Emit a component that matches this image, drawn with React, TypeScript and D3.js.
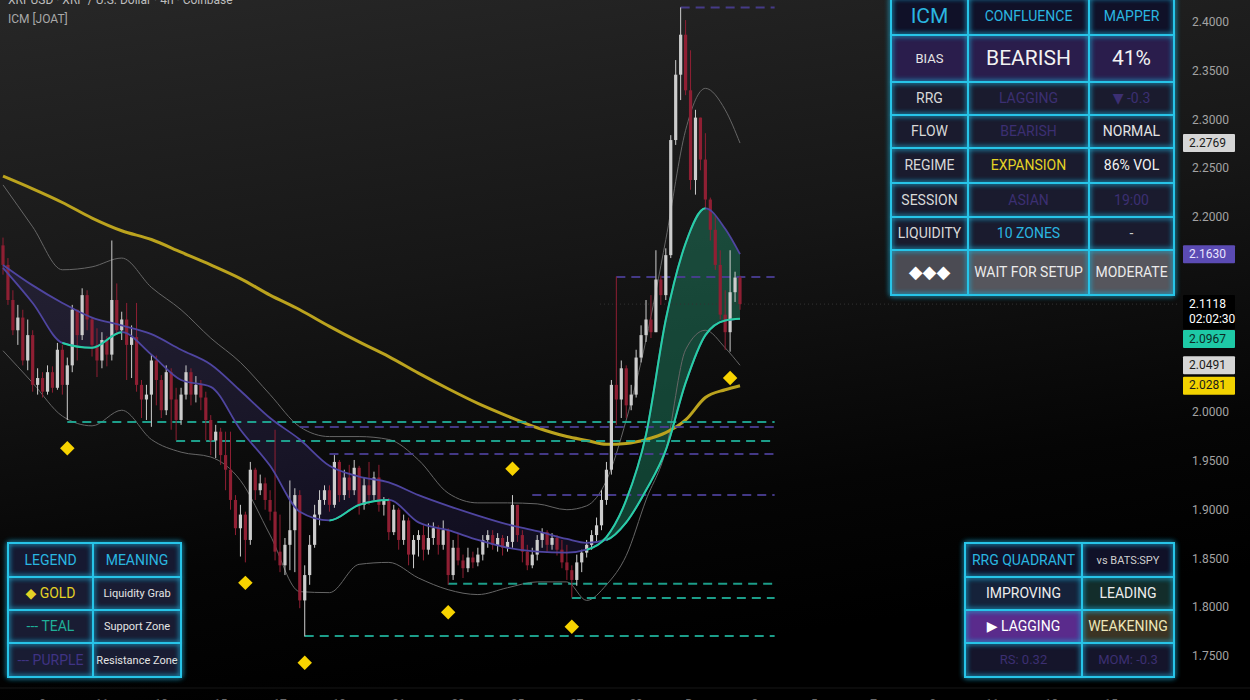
import React from "react";
import * as d3 from "d3";

const W = 1250;
const H = 700;
const FONT = "Roboto, 'Noto Sans', 'DejaVu Sans', sans-serif";

const title = "XRPUSD · XRP / U.S. Dollar · 4h · Coinbase";
const studyName = "ICM [JOAT]";

// 4h candles, open = previous close
const firstOpen = 2.172;
const closes = [
  2.152, 2.116, 2.085, 2.098, 2.054, 2.080, 2.029, 2.036, 2.022, 2.042,
  2.026, 2.065, 2.029, 2.049, 2.106, 2.080, 2.121, 2.096, 2.070, 2.054,
  2.075, 2.060, 2.116, 2.085, 2.096, 2.070, 2.078, 2.029, 2.014, 2.019,
  2.054, 2.034, 2.003, 2.042, 2.014, 1.993, 2.019, 2.042, 2.019, 2.029,
  2.016, 1.993, 1.972, 1.981, 1.957, 1.942, 1.911, 1.882, 1.896, 1.870,
  1.942, 1.921, 1.928, 1.911, 1.899, 1.858, 1.844, 1.865, 1.880, 1.916,
  1.808, 1.834, 1.865, 1.896, 1.911, 1.921, 1.906, 1.950, 1.916, 1.934,
  1.921, 1.944, 1.906, 1.926, 1.916, 1.934, 1.906, 1.911, 1.878, 1.901,
  1.870, 1.890, 1.855, 1.870, 1.875, 1.860, 1.872, 1.882, 1.865, 1.880,
  1.834, 1.862, 1.849, 1.841, 1.852, 1.847, 1.855, 1.870, 1.875, 1.865,
  1.872, 1.862, 1.868, 1.906, 1.875, 1.858, 1.844, 1.855, 1.870, 1.878,
  1.865, 1.872, 1.860, 1.847, 1.839, 1.829, 1.847, 1.857, 1.865, 1.875,
  1.885, 1.911, 1.942, 2.029, 2.014, 2.046, 2.008, 2.019, 2.057, 2.080,
  2.096, 2.083, 2.137, 2.121, 2.162, 2.280, 2.347, 2.388, 2.331, 2.239,
  2.303, 2.260, 2.219, 2.188, 2.152, 2.101, 2.083, 2.124, 2.139, 2.1118,
];
const highs = [
  2.180, 2.159, 2.126, 2.111, 2.106, 2.096, 2.085, 2.046, 2.042, 2.049,
  2.048, 2.072, 2.070, 2.057, 2.111, 2.096, 2.128, 2.126, 2.098, 2.087,
  2.083, 2.079, 2.177, 2.133, 2.104, 2.113, 2.090, 2.113, 2.034, 2.029,
  2.060, 2.059, 2.039, 2.049, 2.046, 2.026, 2.026, 2.049, 2.046, 2.038,
  2.034, 2.022, 1.998, 1.988, 1.985, 1.981, 1.981, 1.916, 1.906, 1.899,
  1.950, 1.944, 1.937, 1.934, 1.921, 1.983, 1.896, 1.872, 1.931, 1.923,
  1.921, 1.844, 1.875, 1.906, 1.921, 1.926, 1.926, 1.957, 1.952, 1.942,
  1.947, 1.952, 1.946, 1.934, 1.950, 1.940, 1.947, 1.914, 1.913, 1.906,
  1.903, 1.896, 1.893, 1.875, 1.880, 1.885, 1.887, 1.888, 1.885, 1.890,
  1.882, 1.870, 1.877, 1.855, 1.862, 1.858, 1.862, 1.875, 1.880, 1.880,
  1.877, 1.875, 1.874, 1.916, 1.906, 1.880, 1.865, 1.862, 1.875, 1.882,
  1.880, 1.877, 1.875, 1.870, 1.865, 1.844, 1.855, 1.860, 1.870, 1.880,
  1.893, 1.921, 1.950, 2.034, 2.140, 2.054, 2.049, 2.029, 2.065, 2.090,
  2.116, 2.121, 2.167, 2.141, 2.169, 2.285, 2.362, 2.416, 2.403, 2.372,
  2.311, 2.280, 2.287, 2.221, 2.203, 2.167, 2.126, 2.167, 2.145, 2.141,
];
const lows = [
  2.142, 2.111, 2.080, 2.070, 2.049, 2.044, 2.022, 2.019, 2.016, 2.019,
  2.021, 2.024, 2.019, 1.993, 2.042, 2.054, 2.075, 2.085, 2.058, 2.037,
  2.046, 2.048, 2.054, 2.080, 2.075, 2.034, 2.036, 2.022, 1.995, 1.993,
  1.986, 2.008, 1.995, 1.998, 1.983, 1.972, 1.988, 2.014, 2.008, 2.011,
  2.003, 1.972, 1.957, 1.954, 1.947, 1.921, 1.901, 1.875, 1.853, 1.847,
  1.865, 1.911, 1.916, 1.901, 1.890, 1.849, 1.837, 1.834, 1.839, 1.837,
  1.800, 1.771, 1.824, 1.862, 1.885, 1.906, 1.899, 1.903, 1.909, 1.911,
  1.913, 1.916, 1.896, 1.901, 1.906, 1.911, 1.899, 1.895, 1.870, 1.875,
  1.860, 1.865, 1.844, 1.841, 1.853, 1.849, 1.855, 1.865, 1.855, 1.860,
  1.824, 1.829, 1.844, 1.831, 1.837, 1.841, 1.843, 1.849, 1.862, 1.860,
  1.858, 1.854, 1.858, 1.862, 1.868, 1.847, 1.839, 1.841, 1.849, 1.862,
  1.858, 1.860, 1.854, 1.841, 1.829, 1.811, 1.823, 1.837, 1.852, 1.860,
  1.868, 1.880, 1.906, 1.937, 1.988, 1.995, 1.995, 2.003, 2.016, 2.052,
  2.073, 2.077, 2.085, 2.111, 2.116, 2.159, 2.275, 2.321, 2.326, 2.229,
  2.224, 2.249, 2.208, 2.177, 2.147, 2.096, 2.065, 2.063, 2.114, 2.106,
];

// indicator readings at these candle indices
const sampleIdx = [0, 6, 12, 18, 24, 30, 36, 42, 48, 54, 60, 66, 72, 78, 84, 90, 96, 102, 108, 114, 118, 122, 126, 130, 134, 138, 142, 146, 149];
const ma200 = [2.243, 2.230, 2.216, 2.200, 2.187, 2.178, 2.165, 2.152, 2.138, 2.121, 2.106, 2.089, 2.073, 2.058, 2.041, 2.025, 2.010, 1.997, 1.985, 1.976, 1.972, 1.968, 1.969, 1.973, 1.980, 1.993, 2.016, 2.024, 2.0281];
const emaSlow = [2.152, 2.131, 2.113, 2.098, 2.090, 2.081, 2.065, 2.050, 2.023, 1.995, 1.973, 1.946, 1.935, 1.929, 1.916, 1.905, 1.895, 1.886, 1.879, 1.871, 1.867, 1.870, 1.888, 1.921, 1.962, 2.031, 2.080, 2.095, 2.0967];
const emaFast = [2.149, 2.113, 2.072, 2.067, 2.083, 2.060, 2.034, 2.027, 1.983, 1.946, 1.899, 1.890, 1.906, 1.911, 1.888, 1.880, 1.870, 1.862, 1.858, 1.857, 1.860, 1.873, 1.911, 1.978, 2.096, 2.174, 2.210, 2.189, 2.163];
const fastTeal = [0, 0, 1, 1, 0, 0, 0, 0, 0, 0, 0, 1, 1, 0, 0, 0, 0, 0, 0, 0, 1, 1, 1, 1, 1, 1, 0, 0, 0];
const slowTeal = [0, 0, 0, 0, 0, 0, 0, 0, 0, 0, 0, 0, 0, 0, 0, 0, 0, 0, 0, 0, 0, 1, 1, 1, 1, 1, 1, 1, 1];
const bandUpper = [2.234, 2.191, 2.147, 2.150, 2.159, 2.129, 2.106, 2.077, 2.052, 2.019, 1.986, 1.976, 1.976, 1.973, 1.952, 1.918, 1.908, 1.908, 1.907, 1.901, 1.905, 1.931, 1.993, 2.075, 2.178, 2.290, 2.333, 2.311, 2.2769];
const bandLower = [2.064, 2.031, 1.997, 1.987, 2.003, 1.973, 1.960, 1.955, 1.931, 1.875, 1.817, 1.816, 1.845, 1.847, 1.831, 1.819, 1.814, 1.821, 1.827, 1.827, 1.808, 1.824, 1.854, 1.911, 1.962, 2.065, 2.085, 2.067, 2.0491];

// liquidity zones
const supportPrice = [1.991, 1.9715, 1.825, 1.8105, 1.7716];
const supportFrom = [13, 35, 90, 115, 61];
const resistPrice = [2.416, 2.1396, 1.9858, 1.9582, 1.916];
const resistFrom = [137, 124, 60, 66, 107];

// liquidity grabs
const grabIdx = [13, 49, 61, 90, 103, 115, 147];
const grabPrice = [1.964, 1.826, 1.744, 1.796, 1.943, 1.781, 2.036];

const yTicks = [2.4, 2.35, 2.3, 2.25, 2.2, 2.15, 2.1, 2.05, 2.0, 1.95, 1.9, 1.85, 1.8, 1.75];
const dateLabels = ["9", "11", "13", "15", "17", "19", "21", "23", "25", "27", "29", "Dec", "3", "5", "7", "9", "11", "13", "15"];

const countdown = "02:02:30";

// table texts
const icmText = [
  ["ICM", "CONFLUENCE", "MAPPER"],
  ["BIAS", "BEARISH", "41%"],
  ["RRG", "LAGGING", "▼ -0.3"],
  ["FLOW", "BEARISH", "NORMAL"],
  ["REGIME", "EXPANSION", "86% VOL"],
  ["SESSION", "ASIAN", "19:00"],
  ["LIQUIDITY", "10 ZONES", "-"],
  ["◆◆◆", "WAIT FOR SETUP", "MODERATE"],
];
const legendText = [
  ["LEGEND", "MEANING"],
  ["◆ GOLD", "Liquidity Grab"],
  ["--- TEAL", "Support Zone"],
  ["--- PURPLE", "Resistance Zone"],
];
const rrgText = [
  ["RRG QUADRANT", "vs BATS:SPY"],
  ["IMPROVING", "LEADING"],
  ["▶ LAGGING", "WEAKENING"],
  ["RS: 0.32", "MOM: -0.3"],
];

const CYAN = "#2ab6e0";
const DIM = "#3c2f72";
const TXT = "#e4e4e4";
const TEAL = "#27d0a4";
const PURPLE = "#4f45a0";

type Cell = { bg: string; fg: string; size: number };

function Table({ colX, rowY, text, style }: { colX: number[]; rowY: number[]; text: string[][]; style: Cell[][] }) {
  return (
    <g>
      {text.map((row, r) =>
        row.map((t, c) => {
          const s = style[r][c];
          const x0 = colX[c], x1 = colX[c + 1];
          const y0 = rowY[r], y1 = rowY[r + 1];
          return (
            <g key={`${r}-${c}`}>
              <rect x={x0} y={y0} width={x1 - x0} height={y1 - y0} fill={s.bg} />
              <text x={(x0 + x1) / 2} y={(y0 + y1) / 2 + 1} textAnchor="middle" dominantBaseline="middle"
                fill={s.fg} fontSize={s.size} fontFamily={FONT}>{t}</text>
            </g>
          );
        })
      )}
      <g filter="url(#glow)" opacity={0.8}>
        {colX.map((cx, i) => <line key={"gv" + i} x1={cx} x2={cx} y1={rowY[0]} y2={rowY[rowY.length - 1]} stroke="#1aa8d0" strokeWidth={4} />)}
        {rowY.map((ry, i) => <line key={"gh" + i} x1={colX[0]} x2={colX[colX.length - 1]} y1={ry} y2={ry} stroke="#1aa8d0" strokeWidth={4} />)}
      </g>
      {colX.map((cx, i) => <line key={"v" + i} x1={cx} x2={cx} y1={rowY[0]} y2={rowY[rowY.length - 1]} stroke="#27c4e8" strokeWidth={2} />)}
      {rowY.map((ry, i) => <line key={"h" + i} x1={colX[0] - 1} x2={colX[colX.length - 1] + 1} y1={ry} y2={ry} stroke="#27c4e8" strokeWidth={2} />)}
    </g>
  );
}

function runs(state: number[]) {
  const out: [number, number][] = [];
  let s = -1;
  state.forEach((v, k) => {
    if (v && s < 0) s = k;
    if (!v && s >= 0) { out.push([s, k]); s = -1; }
  });
  if (s >= 0) out.push([s, state.length - 1]);
  return out;
}

export default function App() {
  const n = closes.length;
  const x = d3.scaleLinear().domain([0, n - 1]).range([3, 740]);
  const y = d3.scaleLinear().domain([1.75, 2.4]).range([657, 23]);

  const candles = closes.map((c, i) => {
    const o = i === 0 ? firstOpen : closes[i - 1];
    return { i, o, c, h: Math.max(highs[i], o, c), l: Math.min(lows[i], o, c) };
  });

  const series = (vals: number[]) => sampleIdx.map((si, k) => [x(si), y(vals[k])] as [number, number]);
  const line = d3.line().curve(d3.curveMonotoneX);
  const ks = d3.range(sampleIdx.length);
  const greenArea = d3.area<number>()
    .x((k) => x(sampleIdx[k]))
    .y0((k) => y(emaSlow[k]))
    .y1((k) => y(Math.max(emaFast[k], emaSlow[k])))
    .curve(d3.curveMonotoneX);
  const purpleArea = d3.area<number>()
    .x((k) => x(sampleIdx[k]))
    .y0((k) => y(emaSlow[k]))
    .y1((k) => y(Math.min(emaFast[k], emaSlow[k])))
    .curve(d3.curveMonotoneX);

  const zoneEnd = x(n - 1 + 7);
  const diamond = d3.symbol(d3.symbolSquare, 105)();

  // right-side price marks, pushed apart like the platform does
  const marks = [
    { v: bandUpper[bandUpper.length - 1], bg: "#d6d6d6", fg: "#1b1b1b", h: 18 },
    { v: emaFast[emaFast.length - 1], bg: "#5b4bb4", fg: "#e8e4ff", h: 18 },
    { v: closes[n - 1], bg: "#000000", fg: "#ffffff", h: 34, sub: countdown },
    { v: emaSlow[emaSlow.length - 1], bg: "#1ec9a6", fg: "#0c2a24", h: 18 },
    { v: bandLower[bandLower.length - 1], bg: "#d6d6d6", fg: "#1b1b1b", h: 18 },
    { v: ma200[ma200.length - 1], bg: "#f2d200", fg: "#1b1b1b", h: 18 },
  ].sort((a, b) => b.v - a.v);
  let prevBottom = -Infinity;
  const placed = marks.map((m) => {
    const top = Math.max(y(m.v) - 9, prevBottom + 1);
    prevBottom = top + m.h;
    return { ...m, top };
  });
  // scale labels hidden where a price mark sits on them
  const shownTicks = yTicks.filter((t) => !placed.some((m) => y(t) > m.top - 7 && y(t) < m.top + m.h + 7));

  const icmStyle: Cell[][] = [
    [{ bg: "#101128", fg: CYAN, size: 21 }, { bg: "#101128", fg: CYAN, size: 14 }, { bg: "#101128", fg: CYAN, size: 14 }],
    [{ bg: "#2a1d4c", fg: TXT, size: 13 }, { bg: "#2a1d4c", fg: "#f2f2f2", size: 21 }, { bg: "#2a1d4c", fg: "#f2f2f2", size: 21 }],
    [{ bg: "#1a1b2e", fg: "#d8d8d8", size: 14 }, { bg: "#1a1b2e", fg: DIM, size: 14 }, { bg: "#1a1b2e", fg: DIM, size: 14 }],
    [{ bg: "#1a1b2e", fg: "#d8d8d8", size: 14 }, { bg: "#1a1b2e", fg: DIM, size: 14 }, { bg: "#1a1b2e", fg: TXT, size: 14 }],
    [{ bg: "#1a1b2e", fg: "#d8d8d8", size: 14 }, { bg: "#1a1b2e", fg: "#e4d225", size: 14 }, { bg: "#1a1b2e", fg: "#f2f2f2", size: 14 }],
    [{ bg: "#1a1b2e", fg: "#d8d8d8", size: 14 }, { bg: "#1a1b2e", fg: DIM, size: 14 }, { bg: "#1a1b2e", fg: DIM, size: 14 }],
    [{ bg: "#1a1b2e", fg: "#d8d8d8", size: 14 }, { bg: "#1a1b2e", fg: CYAN, size: 14 }, { bg: "#1a1b2e", fg: "#cccccc", size: 14 }],
    [{ bg: "#4b4b53", fg: "#ffffff", size: 18 }, { bg: "#56565d", fg: "#ebebeb", size: 14 }, { bg: "#56565d", fg: "#ebebeb", size: 14 }],
  ];
  const legendStyle: Cell[][] = [
    [{ bg: "#161931", fg: CYAN, size: 14 }, { bg: "#161931", fg: CYAN, size: 14 }],
    [{ bg: "#191c33", fg: "#e4d225", size: 14 }, { bg: "#191c33", fg: TXT, size: 11 }],
    [{ bg: "#191c33", fg: "#1faf98", size: 14 }, { bg: "#191c33", fg: TXT, size: 11 }],
    [{ bg: "#191c33", fg: "#3f3384", size: 14 }, { bg: "#191c33", fg: TXT, size: 11 }],
  ];
  const rrgStyle: Cell[][] = [
    [{ bg: "#101128", fg: CYAN, size: 14 }, { bg: "#101128", fg: "#cfcfcf", size: 11 }],
    [{ bg: "#15223a", fg: "#ececec", size: 14 }, { bg: "#132d2b", fg: "#ececec", size: 14 }],
    [{ bg: "#5a2b8c", fg: "#ffffff", size: 14 }, { bg: "#3b3424", fg: "#ede6b8", size: 14 }],
    [{ bg: "#15152b", fg: DIM, size: 13 }, { bg: "#15152b", fg: DIM, size: 13 }],
  ];

  return (
    <svg width={W} height={H} style={{ position: "fixed", left: 0, top: 0, display: "block" }}>
      <defs>
        <linearGradient id="bg" x1="0" y1="0" x2="0.25" y2="1">
          <stop offset="0%" stopColor="#272727" />
          <stop offset="45%" stopColor="#161616" />
          <stop offset="80%" stopColor="#050505" />
          <stop offset="100%" stopColor="#000000" />
        </linearGradient>
        <filter id="glow" x="-10%" y="-10%" width="120%" height="120%">
          <feGaussianBlur stdDeviation="2.5" />
        </filter>
        {runs(fastTeal).map(([a, b], r) => (
          <clipPath key={"cf" + r} id={`fastclip${r}`}>
            <rect x={x(sampleIdx[a])} y={0} width={x(sampleIdx[b]) - x(sampleIdx[a])} height={H} />
          </clipPath>
        ))}
        {runs(slowTeal).map(([a, b], r) => (
          <clipPath key={"cs" + r} id={`slowclip${r}`}>
            <rect x={x(sampleIdx[a])} y={0} width={x(sampleIdx[b]) - x(sampleIdx[a]) + 2} height={H} />
          </clipPath>
        ))}
      </defs>
      <rect width={W} height={H} fill="url(#bg)" />

      {/* bottom time scale sliver */}
      <line x1={0} x2={W} y1={688} y2={688} stroke="#161616" />
      {dateLabels.map((d, i) => (
        <text key={"d" + i} x={x(i * 12 + 8)} y={708} fill="#6a6a6a" fontSize={12} fontFamily={FONT} textAnchor="middle">{d}</text>
      ))}

      {/* cloud fills */}
      <path d={purpleArea(ks) || ""} fill="#5a46b4" opacity={0.16} />
      <path d={greenArea(ks) || ""} fill="#1f8a68" opacity={0.45} />

      {/* envelope */}
      <path d={line(series(bandUpper)) || ""} fill="none" stroke="#666666" strokeWidth={1} />
      <path d={line(series(bandLower)) || ""} fill="none" stroke="#666666" strokeWidth={1} />

      {/* long MA */}
      <path d={line(series(ma200)) || ""} fill="none" stroke="#bba31e" strokeWidth={3} />

      {/* zones */}
      {supportPrice.map((p, k) => (
        <line key={"s" + k} x1={x(supportFrom[k])} x2={zoneEnd} y1={y(p)} y2={y(p)} stroke="#1fae98" strokeWidth={2} strokeDasharray="9 6" opacity={0.9} />
      ))}
      {resistPrice.map((p, k) => (
        <line key={"r" + k} x1={x(resistFrom[k])} x2={zoneEnd} y1={y(p)} y2={y(p)} stroke="#4a3e94" strokeWidth={2} strokeDasharray="9 6" opacity={0.9} />
      ))}
      <line x1={600} x2={1180} y1={y(closes[n - 1])} y2={y(closes[n - 1])} stroke="#333333" strokeDasharray="1 3" />

      {/* candles */}
      {candles.map((d) => {
        const up = d.c >= d.o;
        const col = up ? "#cdcdcd" : "#8f1f33";
        const top = y(Math.max(d.o, d.c));
        const bot = y(Math.min(d.o, d.c));
        return (
          <g key={d.i}>
            <line x1={x(d.i)} x2={x(d.i)} y1={y(d.h)} y2={y(d.l)} stroke={col} strokeWidth={1} />
            <rect x={x(d.i) - 1.6} y={top} width={3.2} height={Math.max(1, bot - top)} fill={col} />
          </g>
        );
      })}

      {/* EMA lines */}
      <path d={line(series(emaSlow)) || ""} fill="none" stroke={PURPLE} strokeWidth={1.8} />
      {runs(slowTeal).map((_, r) => (
        <path key={"st" + r} d={line(series(emaSlow)) || ""} fill="none" stroke={TEAL} strokeWidth={2} clipPath={`url(#slowclip${r})`} />
      ))}
      <path d={line(series(emaFast)) || ""} fill="none" stroke={PURPLE} strokeWidth={1.8} />
      {runs(fastTeal).map((_, r) => (
        <path key={"ft" + r} d={line(series(emaFast)) || ""} fill="none" stroke={TEAL} strokeWidth={2} clipPath={`url(#fastclip${r})`} />
      ))}

      {/* liquidity grabs */}
      {grabIdx.map((gi, k) => (
        <path key={"g" + k} d={diamond || ""} transform={`translate(${x(gi)},${y(grabPrice[k])}) rotate(45)`} fill="#f7d300" />
      ))}

      {/* title */}
      <text x={8} y={4} fill="#bdbdbd" fontSize={12} fontFamily={FONT}>{title}</text>
      <text x={8} y={23} fill="#a9a9a9" fontSize={12} fontFamily={FONT}>{studyName}</text>

      {/* price scale */}
      {shownTicks.map((t) => (
        <text key={t} x={1192} y={y(t)} dominantBaseline="middle" fill="#a3a3a3" fontSize={12} fontFamily={FONT}>{t.toFixed(4)}</text>
      ))}
      {placed.map((m, k) => (
        <g key={"m" + k}>
          <rect x={1183} y={m.top} width={52} height={m.h} fill={m.bg} rx={1} />
          <text x={1189} y={m.top + 9.5} dominantBaseline="middle" fill={m.fg} fontSize={12} fontFamily={FONT}>{m.v.toFixed(4)}</text>
          {m.sub && <text x={1189} y={m.top + 25} dominantBaseline="middle" fill={m.fg} fontSize={12} fontFamily={FONT}>{m.sub}</text>}
        </g>
      ))}

      {/* tables */}
      <Table colX={[891, 968, 1089, 1174]} rowY={[-3, 35, 82, 115, 148, 183, 217, 250, 295]} text={icmText} style={icmStyle} />
      <Table colX={[8, 93, 181]} rowY={[543, 577, 610, 643, 677]} text={legendText} style={legendStyle} />
      <Table colX={[965, 1082, 1174]} rowY={[543, 577, 610, 643, 677]} text={rrgText} style={rrgStyle} />
    </svg>
  );
}
